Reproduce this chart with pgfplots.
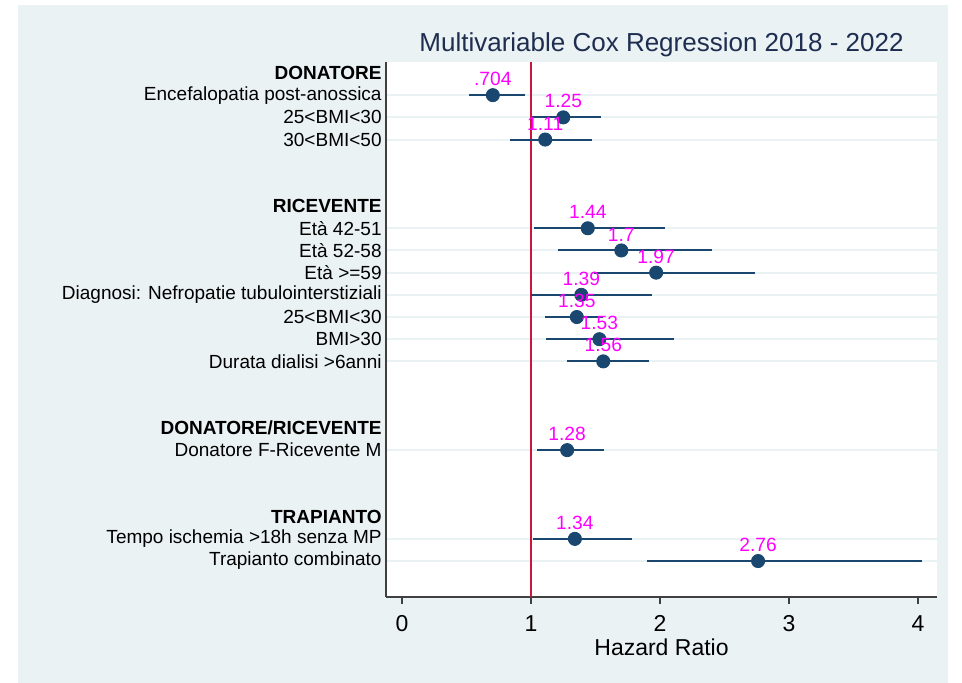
\documentclass[border=0pt]{standalone}
\usepackage{fontspec}
\setmainfont{Liberation Sans}
\usepackage{pgfplots}
\pgfplotsset{compat=1.18}
\usepackage{pgfplotstable}
\definecolor{bgc}{HTML}{EAF2F3}
\definecolor{navy}{RGB}{26,71,111}
\definecolor{refred}{RGB}{205,20,60}
\definecolor{titlec}{RGB}{30,45,80}
\definecolor{lab}{RGB}{255,0,255}
\pgfplotstableread{
row hr lo hi lab
-1 0.704 0.52 0.951 .704
-2 1.25 1.005 1.54 1.25
-3 1.11 0.837 1.475 1.11
-7 1.44 1.023 2.039 1.44
-8 1.70 1.207 2.40 1.7
-9 1.97 1.49 2.736 1.97
-10 1.39 0.998 1.94 1.39
-11 1.355 1.109 1.56 1.35
-12 1.53 1.119 2.109 1.53
-13 1.56 1.279 1.917 1.56
-17 1.28 1.05 1.565 1.28
-21 1.34 1.015 1.784 1.34
-22 2.76 1.898 4.03 2.76
}\data
\begin{document}
\begin{tikzpicture}
\fill[white] (0,0) rectangle (481pt,341.5pt);
\fill[bgc] (9pt,0) rectangle (474pt,339pt);
\node[font=\fontsize{13}{15}\selectfont, color=titlec, anchor=base] at (330.75pt,315.5pt) {Multivariable Cox Regression 2018 - 2022};
\begin{axis}[
  at={(193pt,43pt)}, anchor=south west,
  width=275.5pt, height=267.5pt, scale only axis,
  xmin=-0.124, xmax=4.147, ymin=-23.62, ymax=0.496,
  axis background/.style={fill=white},
  axis x line*=bottom, axis y line*=left,
  axis line style={-, line width=0.75pt, color=black!75},
  /pgf/number format/assume math mode=true,
  xtick={0,1,2,3,4},
  tick align=outside,
  major tick length=3.5pt,
  major tick style={line width=0.75pt, color=black!75},
  ytick style={draw=none},
  xticklabel style={font=\fontsize{11.5}{13}\selectfont, anchor=north, inner sep=0pt, yshift=-5.5pt},
  xlabel={Hazard Ratio},
  xlabel style={font=\fontsize{11.5}{13}\selectfont, at={(axis description cs:0.5,0)}, anchor=north, inner sep=0pt, yshift=-20.5pt},
  ytick={-1,-2,-3,-7,-8,-9,-10,-11,-12,-13,-17,-21,-22},
  yticklabels={{Encefalopatia post-anossica},{25<BMI<30},{30<BMI<50},{Età 42-51},{Età 52-58},{Età >=59},{Diagnosi: Nefropatie tubulointerstiziali},{25<BMI<30},{BMI>30},{Durata dialisi >6anni},{Donatore F-Ricevente M},{Tempo ischemia >18h senza MP},{Trapianto combinato}},
  extra y ticks={0,-6,-16,-20},
  extra y tick labels={\textbf{DONATORE},\textbf{RICEVENTE},\textbf{DONATORE/RICEVENTE},\textbf{TRAPIANTO}},
  extra y tick style={grid=none, ytick style={draw=none}},
  yticklabel style={font=\fontsize{9.5}{11}\selectfont, inner sep=0pt, xshift=1.5pt},
  ymajorgrids,
  major grid style={color=bgc, line width=1pt},
  clip=false,
]
\addplot[refred, line width=1pt] coordinates {(1,0.496) (1,-23.62)};
\addplot[only marks, mark=*, mark size=3.3pt, color=navy,
  error bars/.cd, x dir=both, x explicit, error mark=none,
  error bar style={line width=1pt, color=navy}]
  table[x=hr, y=row, x error plus expr=\thisrow{hi}-\thisrow{hr}, x error minus expr=\thisrow{hr}-\thisrow{lo}] {\data};
\addplot[only marks, mark=none,
  point meta=explicit symbolic,
  nodes near coords, nodes near coords align={above},
  every node near coord/.append style={font=\fontsize{9.6}{11}\selectfont, color=lab, inner sep=0pt, yshift=4.5pt}]
  table[x=hr, y=row, meta=lab] {\data};
\end{axis}
\end{tikzpicture}
\end{document}
